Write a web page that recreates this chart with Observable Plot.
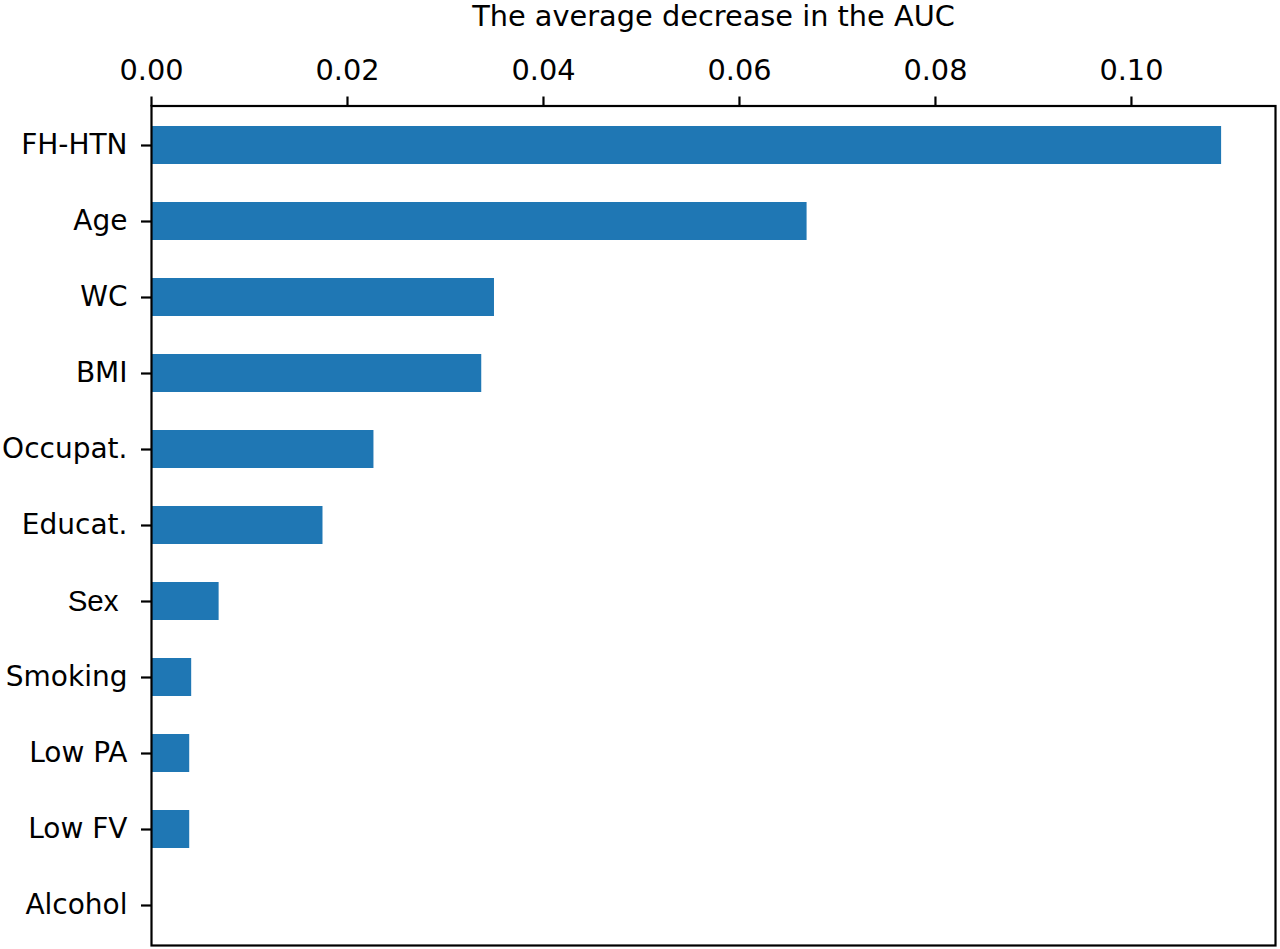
<!DOCTYPE html>
<html>
<head>
<meta charset="utf-8">
<script src="https://cdn.jsdelivr.net/npm/d3@7"></script>
<script src="https://cdn.jsdelivr.net/npm/@observablehq/plot@0.6"></script>
<style>
  html, body { margin: 0; padding: 0; background: white; }
  #chart svg { display: block; }
</style>
</head>
<body>
<div id="chart"></div>
<script>
const title = "The average decrease in the AUC";
const categories = ["FH-HTN", "Age", "WC", "BMI", "Occupat.", "Educat.", "Sex", "Smoking", "Low PA", "Low FV", "Alcohol"];
const values = [0.1092, 0.0669, 0.0350, 0.0337, 0.0227, 0.0175, 0.0069, 0.0041, 0.0039, 0.0039, 0];
const xTicks = [0, 0.02, 0.04, 0.06, 0.08, 0.10];
const xMax = 0.1147;

const data = categories.map((name, i) => ({name, value: values[i]}));
const otherCats = categories.filter(c => c !== "Sex");

const chart = Plot.plot({
  width: 1280,
  height: 949,
  marginLeft: 151,
  marginRight: 5,
  marginTop: 105.5,
  marginBottom: 4,
  style: {fontFamily: "DejaVu Sans", background: "white", color: "black"},
  x: {domain: [0, xMax], axis: null},
  y: {domain: categories, paddingInner: 0.5, paddingOuter: 0.25, axis: null},
  marks: [
    Plot.barX(data, {x: "value", y: "name", fill: "#1f77b4"}),
    Plot.frame({stroke: "black", strokeWidth: 2.2}),
    Plot.axisX(xTicks, {
      anchor: "top", tickSize: 10, tickPadding: 16,
      tickFormat: d3.format(".2f"), fontSize: 28.8, strokeWidth: 2.2,
      color: "black", label: null
    }),
    Plot.axisY(otherCats, {
      anchor: "left", tickSize: 10, tickPadding: 14,
      fontSize: 28, strokeWidth: 2.2, color: "black", label: null
    }),
    Plot.axisY(["Sex"], {
      anchor: "left", tickSize: 10, tickPadding: 23,
      fontSize: 29.5, fontFamily: "Liberation Sans", strokeWidth: 2.2, color: "black", label: null
    }),
    Plot.text([title], {
      frameAnchor: "top", lineAnchor: "bottom", dy: -80,
      fontSize: 28.8, fill: "black"
    })
  ]
});
document.getElementById("chart").appendChild(chart);
</script>
</body>
</html>
